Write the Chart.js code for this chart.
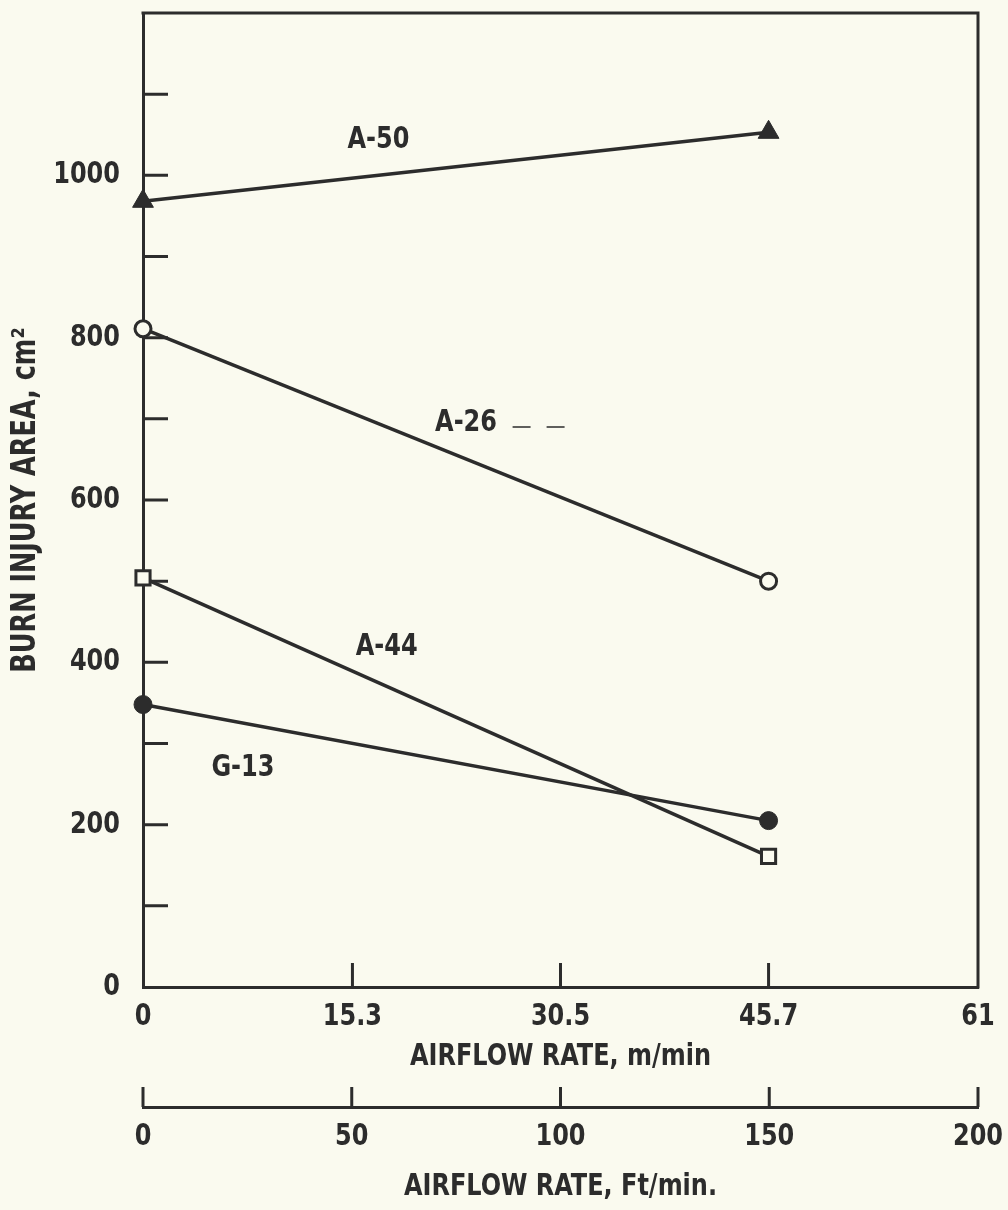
<!DOCTYPE html>
<html><head><meta charset="utf-8">
<script src="https://cdn.jsdelivr.net/npm/chart.js@4"></script>
<style>html,body{margin:0;padding:0;background:#fafaef;}canvas{display:block;}</style>
</head><body>
<canvas id="c" width="1008" height="1210"></canvas>
<script>
// ---- data ----
const airflowM = [0, 45.7];               // m/min
const seriesNames = ['A-50', 'A-26', 'A-44', 'G-13'];
const a50 = [968, 1053];
const a26 = [811, 500];
const a44 = [504, 161];
const g13 = [348, 205];
const mTicks = [0, 15.3, 30.5, 45.7, 61];
const ftTicks = [0, 50, 100, 150, 200];
const yLabelTicks = [0, 200, 400, 600, 800, 1000];
const yMarkTicks = [100, 200, 300, 400, 500, 600, 700, 800, 900, 1000, 1100];
// annotation anchors (data units)
const labelX = [17.2, 23.6, 17.8, 7.3];
const labelY = [1043, 695, 419, 270];

const INK = '#2c2c2c';
const BG = '#fafaef';
const XS = 0.86; // horizontal squeeze for the condensed typewriter look
const FAM = "'Liberation Sans Narrow', 'DejaVu Sans Condensed', 'Liberation Sans', sans-serif";
const F = (s) => ({family: FAM, size: s, weight: 'bold'});

function pts(ys) { return airflowM.map((x, i) => ({x: x, y: ys[i]})); }

const base = {borderColor: INK, borderWidth: 3.5, showLine: true, tension: 0, pointBorderColor: INK, pointBorderWidth: 3, clip: false};
const datasets = [
  Object.assign({}, base, {label: seriesNames[0], data: pts(a50), pointStyle: 'triangle', pointRadius: 12, pointBackgroundColor: INK, pointBorderWidth: 1}),
  Object.assign({}, base, {label: seriesNames[1], data: pts(a26), pointStyle: 'circle', pointRadius: 8, pointBackgroundColor: BG}),
  Object.assign({}, base, {label: seriesNames[2], data: pts(a44), pointStyle: 'rect', pointRadius: 10, pointBackgroundColor: BG}),
  Object.assign({}, base, {label: seriesNames[3], data: pts(g13), pointStyle: 'circle', pointRadius: 9, pointBackgroundColor: INK, pointBorderWidth: 1})
];

const squeeze = {
  id: 'squeeze',
  beforeInit(chart) {
    const ctx = chart.ctx;
    const orig = ctx.fillText.bind(ctx);
    ctx.fillText = function (t, x, y, mw) {
      ctx.save();
      ctx.translate(x, y);
      ctx.scale(XS, 1);
      if (mw !== undefined && mw !== null) orig(t, 0, 0, mw / XS); else orig(t, 0, 0);
      ctx.restore();
    };
  }
};

const deco = {
  id: 'deco',
  beforeDraw(chart) {
    const ctx = chart.ctx;
    ctx.save(); ctx.fillStyle = BG; ctx.fillRect(0, 0, chart.width, chart.height); ctx.restore();
  },
  beforeDatasetsDraw(chart) {
    const ctx = chart.ctx, a = chart.chartArea;
    const sx = chart.scales.x, sx2 = chart.scales.x2, sy = chart.scales.y;
    ctx.save();
    ctx.strokeStyle = INK; ctx.lineWidth = 3; ctx.lineCap = 'butt';
    ctx.beginPath();
    ctx.moveTo(a.left - 1.5, a.top); ctx.lineTo(a.right, a.top); ctx.lineTo(a.right, a.bottom + 1.5);
    ctx.stroke();
    ctx.beginPath();
    yMarkTicks.forEach(v => { const p = sy.getPixelForValue(v); ctx.moveTo(a.left, p); ctx.lineTo(a.left + 25, p); });
    mTicks.slice(1, -1).forEach(v => { const p = sx.getPixelForValue(v); ctx.moveTo(p, a.bottom); ctx.lineTo(p, a.bottom - 24); });
    ftTicks.forEach(v => { const p = sx2.getPixelForValue(v); ctx.moveTo(p, sx2.top); ctx.lineTo(p, sx2.top - 20); });
    ctx.stroke();
    ctx.restore();
  },
  afterDatasetsDraw(chart) {
    const ctx = chart.ctx, sx = chart.scales.x, sy = chart.scales.y;
    ctx.save();
    ctx.fillStyle = INK;
    ctx.font = "bold 31px " + FAM;
    ctx.textAlign = 'center'; ctx.textBaseline = 'middle';
    seriesNames.forEach((n, i) => ctx.fillText(n, sx.getPixelForValue(labelX[i]), sy.getPixelForValue(labelY[i])));
    // faint dashes trailing the A-26 label
    ctx.strokeStyle = INK; ctx.lineWidth = 1.5; ctx.setLineDash([18, 16]);
    ctx.beginPath();
    ctx.moveTo(sx.getPixelForValue(27.0), sy.getPixelForValue(690));
    ctx.lineTo(sx.getPixelForValue(31.3), sy.getPixelForValue(690));
    ctx.stroke();
    ctx.restore();
  }
};

function fixBox(w, h) {
  return s => {
    if (w !== null) s.width = w;
    if (h !== null) s.height = h;
    s.paddingTop = 0; s.paddingBottom = 0; s.paddingLeft = 0; s.paddingRight = 0;
  };
}

new Chart(document.getElementById('c'), {
  type: 'scatter',
  data: {datasets: datasets},
  options: {
    responsive: false, animation: false, devicePixelRatio: 1,
    layout: {padding: {left: 0, right: 30, top: 9, bottom: 0}},
    plugins: {legend: {display: false}, tooltip: {enabled: false}},
    scales: {
      x: {
        type: 'linear', position: 'bottom', min: 0, max: 61, weight: 0,
        afterBuildTicks: s => { s.ticks = mTicks.map(v => ({value: v})); },
        afterFit: fixBox(null, 120),
        ticks: {font: F(31), color: INK, padding: 11, autoSkip: false, maxRotation: 0, callback: v => String(v)},
        grid: {display: true, drawOnChartArea: false, drawTicks: false},
        border: {display: true, color: INK, width: 3},
        title: {display: true, text: 'AIRFLOW RATE, m/min', font: F(31), color: INK, padding: {top: 0, bottom: 31}}
      },
      x2: {
        type: 'linear', position: 'bottom', min: 0, max: 200, weight: 1,
        afterBuildTicks: s => { s.ticks = ftTicks.map(v => ({value: v})); },
        afterFit: fixBox(null, 103),
        ticks: {font: F(31), color: INK, padding: 11, autoSkip: false, maxRotation: 0, callback: v => String(v)},
        grid: {display: true, drawOnChartArea: false, drawTicks: false},
        border: {display: true, color: INK, width: 3},
        title: {display: true, text: 'AIRFLOW RATE, Ft/min.', font: F(31), color: INK, padding: {top: 0, bottom: 4}}
      },
      y: {
        type: 'linear', position: 'left', min: 0, max: 1200,
        afterBuildTicks: s => { s.ticks = yLabelTicks.map(v => ({value: v})); },
        afterFit: fixBox(143, null),
        ticks: {font: F(31), color: INK, padding: 23, autoSkip: false, callback: v => String(v)},
        grid: {display: true, drawOnChartArea: false, drawTicks: false},
        border: {display: true, color: INK, width: 3},
        title: {display: true, text: 'BURN INJURY AREA, cm²', font: F(33), color: INK, padding: {top: 7, bottom: 0}}
      }
    }
  },
  plugins: [squeeze, deco]
});
</script>
</body></html>
